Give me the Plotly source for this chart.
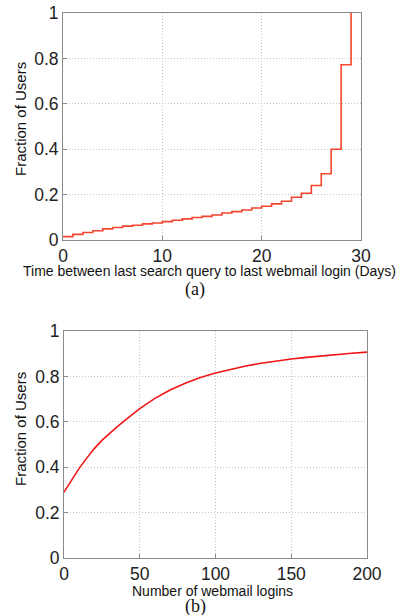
import plotly.graph_objects as go

# (a) CDF of days between last search query and last webmail login (step)
days = list(range(0, 30))
frac_days = [0.015, 0.025, 0.033, 0.041, 0.049, 0.055, 0.061, 0.065, 0.071, 0.075,
             0.081, 0.087, 0.093, 0.099, 0.104, 0.110, 0.119, 0.125, 0.132, 0.141,
             0.149, 0.159, 0.171, 0.188, 0.206, 0.240, 0.292, 0.400, 0.772, 1.0]

# (b) CDF of number of webmail logins
logins = [0, 2, 5, 10, 15, 20, 25, 30, 35, 40, 45, 50, 60, 70, 80, 90, 100, 110,
          120, 130, 140, 150, 160, 170, 180, 190, 200]
frac_logins = [0.29, 0.312, 0.345, 0.395, 0.44, 0.482, 0.518, 0.55, 0.578, 0.605,
               0.632, 0.658, 0.703, 0.740, 0.770, 0.795, 0.815, 0.832, 0.846,
               0.858, 0.868, 0.877, 0.884, 0.891, 0.897, 0.902, 0.907]

xticks_a = [0, 10, 20, 30]
xticks_b = [0, 50, 100, 150, 200]
yticks = [0, 0.2, 0.4, 0.6, 0.8, 1]
ytick_text = ["0", "0.2", "0.4", "0.6", "0.8", "1"]

W, H = 398, 615
TICKFONT = dict(family="Liberation Sans, Arial, sans-serif", size=17.5, color="#222222")
FRAME = "#8a8a8a"
GRID = "#c4c4c4"

fig = go.Figure()
fig.add_trace(go.Scatter(x=days, y=frac_days, mode="lines", line_shape="hv",
                         line=dict(color="#f5452c", width=1.6),
                         xaxis="x", yaxis="y", showlegend=False))
fig.add_trace(go.Scatter(x=logins, y=frac_logins, mode="lines",
                         line=dict(color="#f21414", width=1.6),
                         xaxis="x2", yaxis="y2", showlegend=False))

def px_x(p):
    return p / W

def px_y(p):
    return 1 - p / H

common_x = dict(showline=True, linecolor=FRAME, linewidth=1, mirror=True,
                ticks="inside", ticklen=4, tickcolor=FRAME, automargin=False,
                showgrid=True, gridcolor=GRID, griddash="1px,2px", gridwidth=1,
                zeroline=False, tickfont=TICKFONT, ticklabelstandoff=0)
common_y = dict(showline=True, linecolor=FRAME, linewidth=1, mirror=True,
                ticks="inside", ticklen=4, tickcolor=FRAME, automargin=False,
                showgrid=True, gridcolor=GRID, griddash="1px,2px", gridwidth=1,
                zeroline=False, tickfont=TICKFONT, ticklabelstandoff=0,
                range=[0, 1], tickvals=yticks, ticktext=ytick_text)

fig.update_layout(
    width=W, height=H,
    margin=dict(l=0, r=0, t=0, b=0, pad=0),
    paper_bgcolor="white", plot_bgcolor="white",
    xaxis=dict(domain=[px_x(63), px_x(361)], range=[0, 30], tickvals=xticks_a,
               anchor="y", **common_x),
    yaxis=dict(domain=[px_y(240), px_y(13)], anchor="x", **common_y),
    xaxis2=dict(domain=[px_x(64), px_x(367)], range=[0, 200], tickvals=xticks_b,
                anchor="y2", **common_x),
    yaxis2=dict(domain=[px_y(558), px_y(331)], anchor="x2", **common_y),
)

ann_font = dict(family="Liberation Sans, Arial, sans-serif", size=14, color="#111111")
yt_font = dict(family="Liberation Sans, Arial, sans-serif", size=15, color="#111111")
cap_font = dict(family="Liberation Serif, Times New Roman, serif", size=18, color="#111111")

anns = [
    dict(text="Time between last search query to last webmail login (Days)",
         x=px_x(209), y=px_y(271), font=ann_font),
    dict(text="(a)", x=px_x(195), y=px_y(289), font=cap_font),
    dict(text="Number of webmail logins", x=px_x(212), y=px_y(591), font=ann_font),
    dict(text="(b)", x=px_x(195), y=px_y(606), font=cap_font),
    dict(text="Fraction of Users", x=px_x(21), y=px_y(119), font=yt_font, textangle=-90),
    dict(text="Fraction of Users", x=px_x(21), y=px_y(429), font=yt_font, textangle=-90),
]
for a in anns:
    fig.add_annotation(xref="paper", yref="paper", showarrow=False,
                       xanchor="center", yanchor="middle", **a)

fig.write_html("out.html",
               config={"displayModeBar": False, "staticPlot": True},
               post_script="document.body.style.margin='0';document.body.style.padding='0';document.documentElement.style.overflow='hidden';")
